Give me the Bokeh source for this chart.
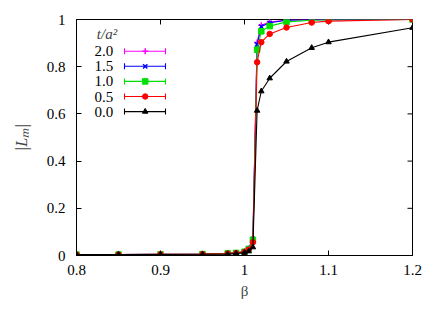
import math
from bokeh.plotting import figure
from bokeh.models import Range1d, FixedTicker, Label
from bokeh.embed import file_html
from bokeh.resources import INLINE
from bokeh.core.properties import value

# ---- data ----
beta = [0.8, 0.85, 0.9, 0.95, 0.98, 0.99, 1.0, 1.005, 1.01, 1.015, 1.02, 1.03, 1.05, 1.08, 1.1, 1.2]
L_20 = [0.004, 0.004, 0.005, 0.006, 0.009, 0.011, 0.017, 0.03, 0.075, 0.903, 0.976, 0.989, 0.998, 0.999, 1.0, 1.0]
L_15 = [0.004, 0.004, 0.005, 0.006, 0.009, 0.011, 0.016, 0.029, 0.070, 0.894, 0.970, 0.986, 0.997, 0.999, 0.999, 1.0]
L_10 = [0.004, 0.004, 0.005, 0.006, 0.009, 0.011, 0.016, 0.028, 0.066, 0.872, 0.950, 0.972, 0.990, 0.997, 0.999, 1.0]
L_05 = [0.004, 0.004, 0.005, 0.006, 0.008, 0.010, 0.015, 0.025, 0.056, 0.819, 0.904, 0.939, 0.966, 0.987, 0.993, 1.0]
L_00 = [0.004, 0.004, 0.004, 0.005, 0.006, 0.008, 0.012, 0.018, 0.035, 0.614, 0.696, 0.751, 0.822, 0.880, 0.904, 0.965]
series_labels = ["2.0", "1.5", "1.0", "0.5", "0.0"]
series_values = [L_20, L_15, L_10, L_05, L_00]
colors = ["#ff00ff", "#0000ff", "#00e000", "#ff0000", "#000000"]
markers = ["cross", "x", "square", "circle", "triangle"]

x_ticks = [0.8, 0.9, 1.0, 1.1, 1.2]
x_tick_labels = ["0.8", "0.9", "1", "1.1", "1.2"]
y_ticks = [0, 0.2, 0.4, 0.6, 0.8, 1.0]
y_tick_labels = ["0", "0.2", "0.4", "0.6", "0.8", "1"]

FONT = "serif"
FS = "15px"

p = figure(frame_width=336, frame_height=236, output_backend="svg", toolbar_location=None,
           x_range=Range1d(0.8, 1.2), y_range=Range1d(0, 1),
           min_border_left=76, min_border_right=20, min_border_top=19, min_border_bottom=46)
p.background_fill_color = "white"
p.border_fill_color = "white"
p.outline_line_color = "black"
p.outline_line_width = 1
p.xgrid.visible = False
p.ygrid.visible = False

def style_axis(ax, ticks, labels):
    ax.ticker = FixedTicker(ticks=ticks)
    ax.major_label_overrides = {t: l for t, l in zip(ticks, labels)}
    ax.major_tick_in = 5
    ax.major_tick_out = 0
    ax.minor_tick_in = 0
    ax.minor_tick_out = 0
    ax.axis_line_color = "black"
    ax.major_tick_line_color = "black"
    ax.major_label_text_font = FONT
    ax.major_label_text_font_size = FS
    ax.major_label_text_color = "black"

style_axis(p.xaxis[0], x_ticks, x_tick_labels)
style_axis(p.yaxis[0], y_ticks, y_tick_labels)
p.xaxis[0].major_label_standoff = 9
p.yaxis[0].major_label_standoff = 11
p.xaxis[0].axis_label = "β"
p.xaxis[0].axis_label_text_font = FONT
p.xaxis[0].axis_label_text_font_size = FS
p.xaxis[0].axis_label_text_font_style = "normal"
p.xaxis[0].axis_label_standoff = 5
p.yaxis[0].axis_label = "|Lₘ|"
p.yaxis[0].axis_label_text_font = FONT
p.yaxis[0].axis_label_text_font_size = "16px"
p.yaxis[0].axis_label_text_font_style = "italic"
p.yaxis[0].axis_label_standoff = 14

# mirrored inward ticks on top and right edges
p.ray(x=x_ticks, y=[1.0] * len(x_ticks), length=5, length_units="screen",
      angle=-math.pi / 2, line_color="black", line_width=1)
p.ray(x=[1.2] * len(y_ticks), y=y_ticks, length=5, length_units="screen",
      angle=math.pi, line_color="black", line_width=1)

# ---- data series (plotted 2.0 first, 0.0 last) ----
for vals, c, m in zip(series_values, colors, markers):
    p.line(beta, vals, line_color=c, line_width=1.1)
    if m in ("cross", "x"):
        p.scatter(beta, vals, marker=m, size=6, line_color=c, line_width=1.5)
    else:
        p.scatter(beta, vals, marker=m, size=5.5, line_color=c, fill_color=c)

# ---- legend (gnuplot style: label left, sample right) ----
def px_to_x(px):
    return 0.8 + (px - 76.3) / 840.0

def py_to_y(py):
    return (255.0 - py) / 236.0

leg_text_x = px_to_x(113)
leg_x0, leg_x1, leg_xm = px_to_x(124.3), px_to_x(165.3), px_to_x(145)
leg_rows = [50.7 + 15.1 * i for i in range(5)]
cap = 3.0 / 236.0

p.add_layout(Label(x=px_to_x(117), y=py_to_y(33), text="t/a²", text_font=FONT,
                   text_font_size=FS, text_font_style="italic",
                   text_align="right", text_baseline="middle"))
for lab, c, m, row in zip(series_labels, colors, markers, leg_rows):
    yy = py_to_y(row)
    p.text(x=[leg_text_x], y=[yy], text=[lab], text_font=value(FONT), text_font_size=FS,
           text_align="right", text_baseline="middle", text_color="black")
    p.segment(x0=[leg_x0], y0=[yy], x1=[leg_x1], y1=[yy], line_color=c, line_width=1.1)
    p.segment(x0=[leg_x0, leg_x1], y0=[yy - cap, yy - cap], x1=[leg_x0, leg_x1], y1=[yy + cap, yy + cap],
              line_color=c, line_width=1.1)
    if m in ("cross", "x"):
        p.scatter([leg_xm], [yy], marker=m, size=6, line_color=c, line_width=1.5)
    else:
        p.scatter([leg_xm], [yy], marker=m, size=5.5, line_color=c, fill_color=c)

open("out.html", "w").write(file_html(p, INLINE))
